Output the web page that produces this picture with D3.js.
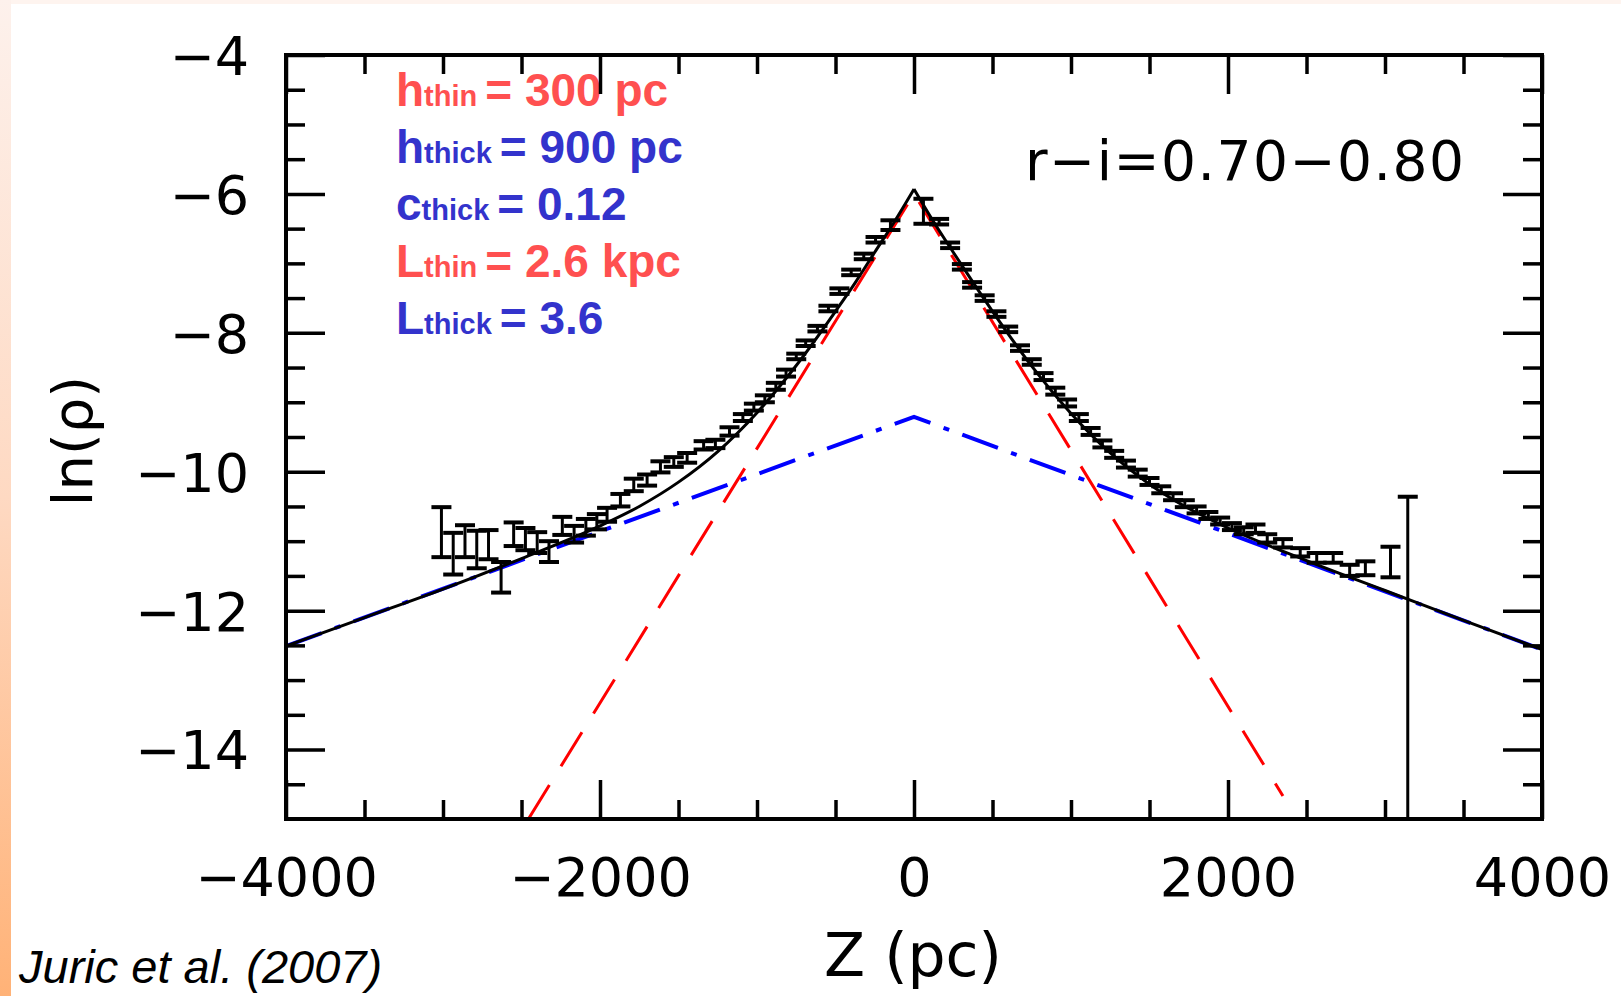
<!DOCTYPE html>
<html>
<head>
<meta charset="utf-8">
<script src="https://cdn.jsdelivr.net/npm/d3@7"></script>
<style>
body { margin: 0; background: #fff; }
svg { display: block; }
</style>
</head>
<body>
<div id="chart"></div>
<script>
// binned star counts, r-i = 0.70-0.80
const zBins = [-3010, -2935, -2860, -2785, -2710, -2630, -2550, -2475, -2400, -2325,
    -2240, -2165, -2090, -2020, -1955, -1870, -1785, -1700, -1615, -1530,
    -1445, -1340, -1265, -1175, -1090, -1020, -950, -880, -815, -750,
    -690, -615, -545, -475, -400, -320, -245, -150,
    60, 160, 230, 305, 370, 450, 525, 600, 675, 750,
    825, 900, 975, 1050, 1125, 1200, 1275, 1350, 1425, 1500,
    1575, 1650, 1725, 1800, 1875, 1950, 2025, 2100, 2175, 2250,
    2350, 2460, 2565, 2670, 2775, 2875, 3035, 3145];
const lnRho = [-10.87, -11.18, -11.00, -11.12, -11.05, -11.52, -10.90, -10.97, -11.02, -11.15,
    -10.78, -10.90, -10.80, -10.72, -10.62, -10.41, -10.19, -10.12, -9.93, -9.86,
    -9.80, -9.62, -9.60, -9.42, -9.22, -9.07, -8.95, -8.77, -8.58, -8.34,
    -8.15, -7.94, -7.65, -7.40, -7.13, -6.90, -6.66, -6.45,
    -6.25, -6.40, -6.74, -7.05, -7.31, -7.50, -7.73, -7.95, -8.22, -8.42,
    -8.63, -8.84, -9.01, -9.22, -9.42, -9.60, -9.75, -9.89, -10.02, -10.14,
    -10.26, -10.36, -10.46, -10.55, -10.63, -10.71, -10.79, -10.85, -10.82, -10.96,
    -11.03, -11.16, -11.24, -11.24, -11.42, -11.39, -11.30, -11.10];
const errUp = [0.36, 0.30, 0.23, 0.27, 0.21, 0.22, 0.17, 0.16, 0.15, 0.15,
    0.13, 0.12, 0.12, 0.11, 0.10, 0.09, 0.09, 0.08, 0.08, 0.07,
    0.07, 0.06, 0.06, 0.06, 0.05, 0.05, 0.05, 0.05, 0.05, 0.04,
    0.04, 0.04, 0.04, 0.04, 0.04, 0.04, 0.04, 0.07,
    0.18, 0.04, 0.04, 0.04, 0.04, 0.04, 0.04, 0.04, 0.04, 0.04,
    0.05, 0.05, 0.05, 0.05, 0.05, 0.05, 0.05, 0.05, 0.05, 0.05,
    0.05, 0.05, 0.05, 0.05, 0.05, 0.05, 0.05, 0.05, 0.06, 0.06,
    0.06, 0.06, 0.07, 0.07, 0.08, 0.10, 0.22, 0.74];
// last bin has no lower bound (runs off the axis)
const errDown = errUp.slice(0, -1).concat([10]);

// total fit (solid), thin disk (dashed), thick disk (dash-dot)
const fitZ = [-4000, -3500, -3000, -2500, -2000, -1750, -1500, -1250, -1000, -750,
    -500, -375, -250, -125, 0, 125, 250, 375, 500, 750,
    1000, 1250, 1500, 1750, 2000, 2500, 3000, 3500, 4000];
const fitLnRho = [-12.51, -12.10, -11.69, -11.25, -10.78, -10.50, -10.15, -9.71, -9.15, -8.47,
    -7.69, -7.28, -6.84, -6.40, -5.93, -6.40, -6.84, -7.27, -7.69, -8.48,
    -9.16, -9.73, -10.18, -10.53, -10.81, -11.28, -11.71, -12.14, -12.56];
const thinZ = [-2456, 0, 2350];
const thinLnRho = [-15, -6.0, -14.67];
const thickZ = [-4000, 0, 4000];
const thickLnRho = [-12.51, -9.21, -12.56];

// ticks
const xMajor = [-4000, -2000, 0, 2000, 4000];
const xMinor = [-3500, -3000, -2500, -1500, -1000, -500, 500, 1000, 1500, 2500, 3000, 3500];
const yMajor = [-4, -6, -8, -10, -12, -14];
const yMinor = [-4.5, -5, -5.5, -6.5, -7, -7.5, -8.5, -9, -9.5, -10.5, -11, -11.5, -12.5, -13, -13.5, -14.5];

// fit parameters
const paramSymbol = ["h", "h", "c", "L", "L"];
const paramComponent = ["thin", "thick", "thick", "thin", "thick"];
const paramValue = ["= 300 pc", "= 900 pc", "= 0.12", "= 2.6 kpc", "= 3.6"];

const componentColor = {thin: "#ff5050", thick: "#3333cc"};

const W = 1621, H = 996;
const margin = {top: 55, right: 79, bottom: 177, left: 286},
    width = W - margin.left - margin.right,
    height = H - margin.top - margin.bottom;

const root = d3.select("#chart").append("svg")
    .attr("width", W)
    .attr("height", H);

// slide background strips
const defs = root.append("defs");
const grad = defs.append("linearGradient")
    .attr("id", "edge")
    .attr("x1", 0).attr("y1", 0).attr("x2", 0).attr("y2", 1);
grad.append("stop").attr("offset", 0).attr("stop-color", "#fdf1ec");
grad.append("stop").attr("offset", 0.5).attr("stop-color", "#fed9c2");
grad.append("stop").attr("offset", 1).attr("stop-color", "#ffb277");
root.append("rect").attr("x", 0).attr("y", 0).attr("width", W).attr("height", 4).attr("fill", "#fef4ef");
root.append("rect").attr("x", 0).attr("y", 0).attr("width", 11).attr("height", H).attr("fill", "url(#edge)");

defs.append("clipPath").attr("id", "plot-clip")
    .append("rect").attr("width", width).attr("height", height);

const svg = root.append("g")
    .attr("transform", `translate(${margin.left},${margin.top})`);

const x = d3.scaleLinear().domain([-4000, 4000]).range([0, width]);
const y = d3.scaleLinear().domain([-4, -15]).range([0, height]);

// parameter block
const legend = svg.append("g");
paramSymbol.forEach((s, i) => {
    const t = legend.append("text")
        .attr("x", 396 - margin.left)
        .attr("y", 106 - margin.top + i * 57)
        .attr("fill", componentColor[paramComponent[i]])
        .style("font-family", "'Liberation Sans', Arial, sans-serif")
        .style("font-weight", "bold")
        .style("white-space", "pre");
    t.append("tspan").style("font-size", "46px").text(s);
    t.append("tspan").style("font-size", "29px").text(paramComponent[i] + " ");
    t.append("tspan").style("font-size", "46px").text(paramValue[i]);
});

svg.append("text")
    .attr("x", 1025 - margin.left)
    .attr("y", 180 - margin.top)
    .style("font-family", "'DejaVu Sans', sans-serif")
    .style("font-size", "55px")
    .style("letter-spacing", "1.5px")
    .text("r\u2212i=0.70\u22120.80");

const plot = svg.append("g").attr("clip-path", "url(#plot-clip)");

// model lines
const line = (xs, ys, curve) => d3.line()
    .x(i => x(xs[i]))
    .y(i => y(ys[i]))
    .curve(curve || d3.curveLinear);

plot.append("path")
    .attr("d", line(thickZ, thickLnRho)(d3.range(thickZ.length)))
    .attr("fill", "none")
    .attr("stroke", "#0000ff")
    .attr("stroke-width", 4)
    .attr("stroke-dasharray", "38,14,6,14");

plot.append("path")
    .attr("d", line(thinZ, thinLnRho)(d3.range(thinZ.length)))
    .attr("fill", "none")
    .attr("stroke", "#ff0000")
    .attr("stroke-width", 3)
    .attr("stroke-dasharray", "40,22");

// total: two branches so the cusp at Z=0 stays sharp
const peak = fitZ.indexOf(0);
[d3.range(0, peak + 1), d3.range(peak, fitZ.length)].forEach(idx => {
    plot.append("path")
        .attr("d", line(fitZ, fitLnRho, d3.curveMonotoneX)(idx))
        .attr("fill", "none")
        .attr("stroke", "#000")
        .attr("stroke-width", 3);
});

// error bars
const bars = plot.selectAll(".bar")
    .data(d3.range(zBins.length))
    .enter().append("g")
    .attr("class", "bar")
    .attr("stroke", "#000")
    .attr("stroke-width", 4);
bars.append("line")
    .attr("x1", i => x(zBins[i])).attr("x2", i => x(zBins[i]))
    .attr("y1", i => y(lnRho[i] + errUp[i]))
    .attr("y2", i => y(lnRho[i] - errDown[i]))
    .attr("stroke-width", 3);
bars.append("line")
    .attr("x1", i => x(zBins[i]) - 10).attr("x2", i => x(zBins[i]) + 10)
    .attr("y1", i => y(lnRho[i] + errUp[i]))
    .attr("y2", i => y(lnRho[i] + errUp[i]));
bars.append("line")
    .attr("x1", i => x(zBins[i]) - 10).attr("x2", i => x(zBins[i]) + 10)
    .attr("y1", i => y(lnRho[i] - errDown[i]))
    .attr("y2", i => y(lnRho[i] - errDown[i]));

// axes: inward ticks on all four sides
function ticks(axis, values, size, withLabels) {
    const a = axis.tickValues(values).tickSizeInner(-size).tickSizeOuter(0);
    if (!withLabels) a.tickFormat("");
    return a;
}
const fmt = d3.format("d");
const axes = svg.append("g");

const xAxis = axes.append("g").attr("transform", `translate(0,${height})`)
    .call(ticks(d3.axisBottom(x), xMajor, 39, true).tickFormat(fmt).tickPadding(39));
axes.append("g").attr("transform", `translate(0,${height})`)
    .call(ticks(d3.axisBottom(x), xMinor, 19));
axes.append("g").call(ticks(d3.axisTop(x), xMajor, 39));
axes.append("g").call(ticks(d3.axisTop(x), xMinor, 19));

const yAxis = axes.append("g")
    .call(ticks(d3.axisLeft(y), yMajor, 39, true).tickFormat(fmt).tickPadding(37));
axes.append("g").call(ticks(d3.axisLeft(y), yMinor, 19));
axes.append("g").attr("transform", `translate(${width},0)`)
    .call(ticks(d3.axisRight(y), yMajor, 39));
axes.append("g").attr("transform", `translate(${width},0)`)
    .call(ticks(d3.axisRight(y), yMinor, 19));

axes.selectAll(".domain").remove();
axes.selectAll(".tick line").attr("stroke", "#000").attr("stroke-width", 3.5);
axes.selectAll(".tick text")
    .attr("fill", "#000")
    .style("font-family", "'DejaVu Sans', sans-serif")
    .style("font-size", "54px");
yAxis.selectAll(".tick text").attr("dy", "0.36em");

svg.append("rect")
    .attr("width", width).attr("height", height)
    .attr("fill", "none")
    .attr("stroke", "#000")
    .attr("stroke-width", 4);

// axis titles
svg.append("text")
    .attr("x", 913 - margin.left)
    .attr("y", 976 - margin.top)
    .attr("text-anchor", "middle")
    .style("font-family", "'DejaVu Sans', sans-serif")
    .style("font-size", "60px")
    .text("Z (pc)");

svg.append("text")
    .attr("transform", `translate(${92 - margin.left},${441 - margin.top})rotate(-90)`)
    .attr("text-anchor", "middle")
    .style("font-family", "'DejaVu Sans', sans-serif")
    .style("font-size", "56px")
    .text("ln(\u03c1)");

// citation
root.append("text")
    .attr("x", 19)
    .attr("y", 983)
    .style("font-family", "'Liberation Sans', Arial, sans-serif")
    .style("font-style", "italic")
    .style("font-size", "47px")
    .text("Juric et al. (2007)");
</script>
</body>
</html>
